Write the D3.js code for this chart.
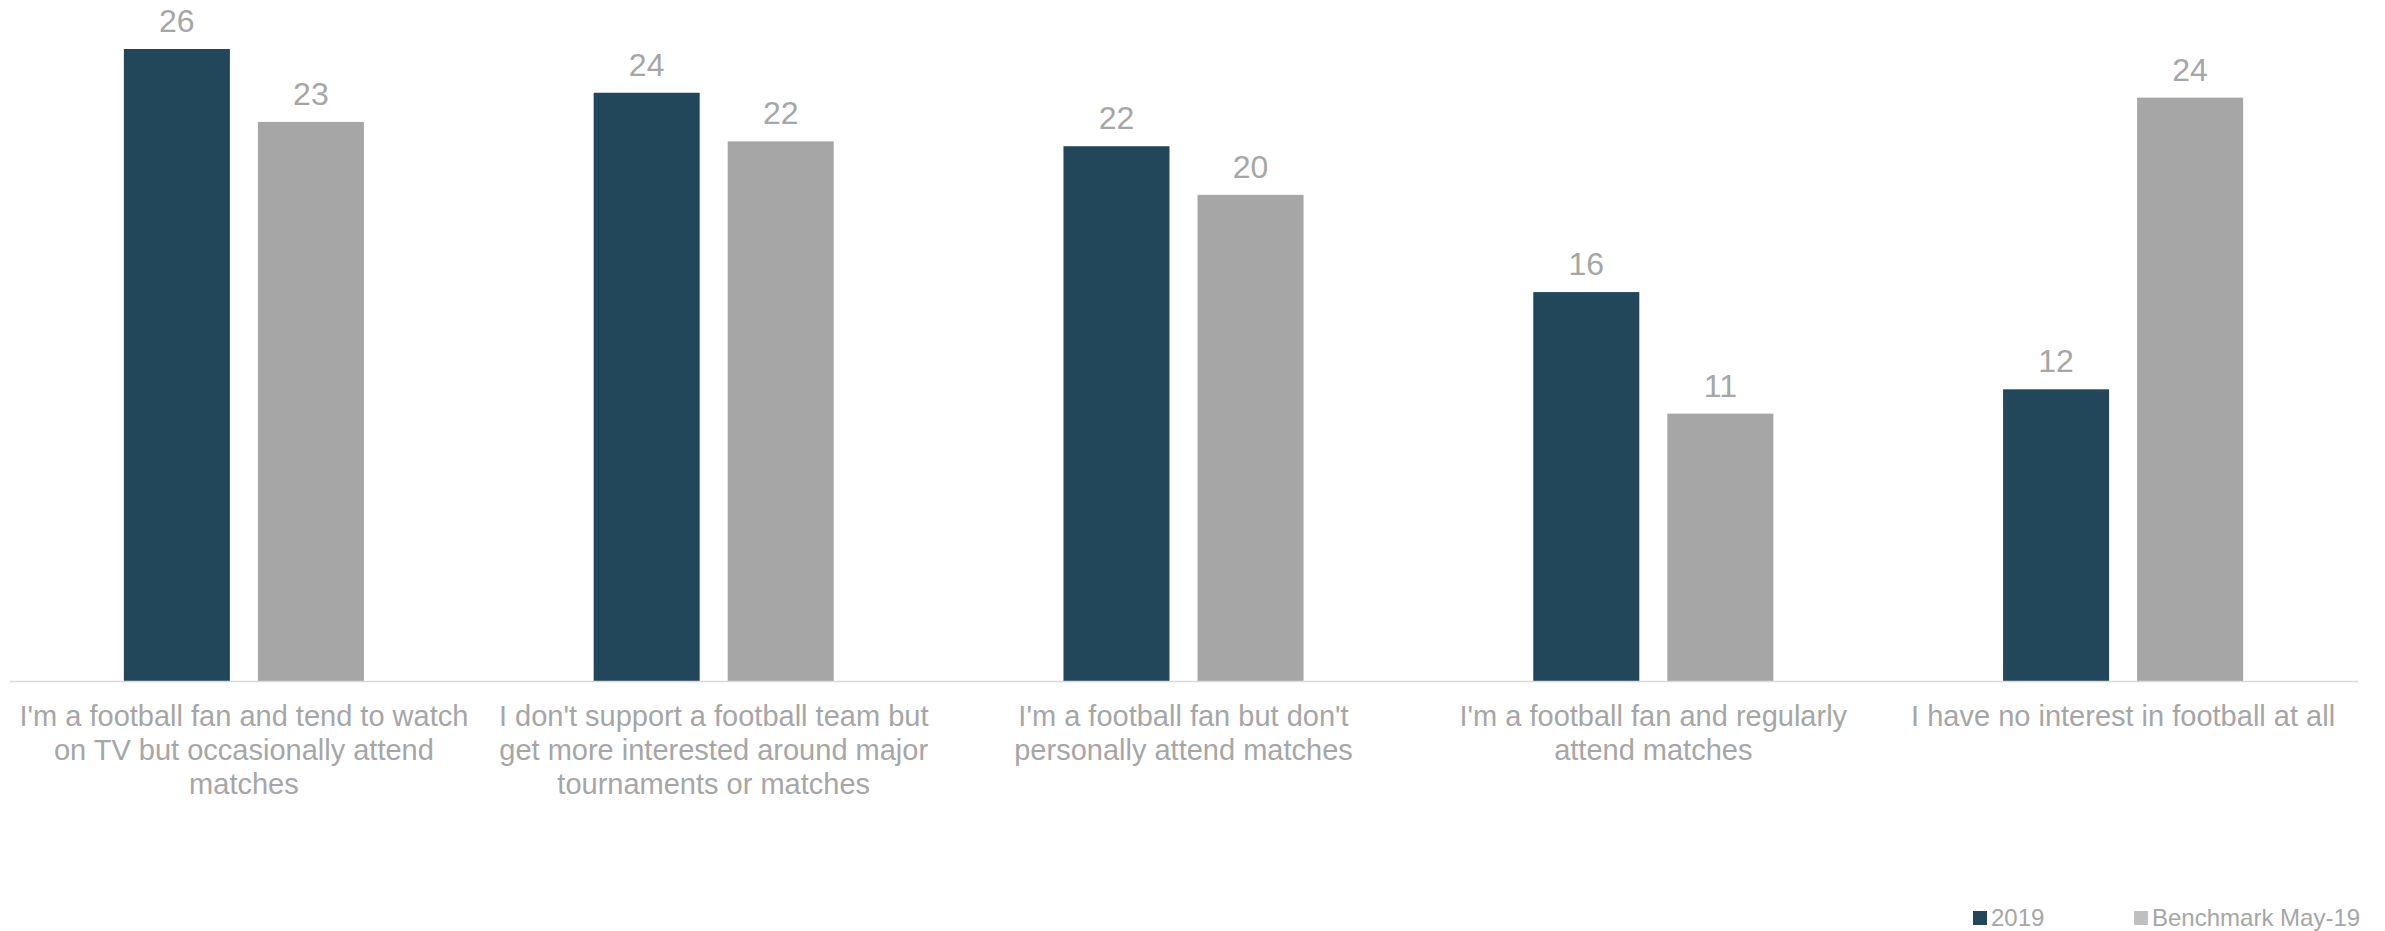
<!DOCTYPE html>
<html>
<head>
<meta charset="utf-8">
<script src="https://cdn.jsdelivr.net/npm/d3@7"></script>
<style>
  html, body { margin: 0; padding: 0; background: #fff; }
  svg { display: block; font-family: "Liberation Sans", Arial, sans-serif; }
</style>
</head>
<body>
<svg id="chart" width="2385" height="931"></svg>
<script>
const categories = [
  "I'm a football fan and tend to watch on TV but occasionally attend matches",
  "I don't support a football team but get more interested around major tournaments or matches",
  "I'm a football fan but don't personally attend matches",
  "I'm a football fan and regularly attend matches",
  "I have no interest in football at all"
];
const seriesNames = ["2019", "Benchmark May-19"];
const values2019 = [26, 24.2, 22, 16, 12];
const valuesBenchmark = [23, 22.2, 20, 11, 24];
const barColors = ["#22475a", "#a6a6a6"];
const legendColors = ["#22475a", "#bfbfbf"];

(function () {
const svg = d3.select("#chart");
const plotLeft = 9, plotRight = 2358, baseY = 681, topY = 49;
const fmt = d3.format(".0f");

const x0 = d3.scaleBand().domain(categories).range([plotLeft, plotRight])
  .paddingInner(0.489).paddingOuter(0.2445);
const x1 = d3.scaleBand().domain(seriesNames).range([0, x0.bandwidth()])
  .paddingInner(0.209).paddingOuter(0);
const y = d3.scaleLinear().domain([0, 26]).range([baseY, topY]);

const seriesValues = [values2019, valuesBenchmark];
const data = categories.map((c, i) => ({
  cat: c,
  vals: seriesNames.map((s, j) => ({ s, j, v: seriesValues[j][i] }))
}));

const g = svg.append("g");
const groups = g.selectAll("g.cat").data(data).join("g")
  .attr("class", "cat")
  .attr("transform", d => `translate(${x0(d.cat)},0)`);

groups.selectAll("rect").data(d => d.vals).join("rect")
  .attr("x", d => x1(d.s))
  .attr("y", d => y(d.v))
  .attr("width", x1.bandwidth())
  .attr("height", d => baseY - y(d.v))
  .attr("fill", d => barColors[d.j]);

groups.selectAll("text.val").data(d => d.vals).join("text")
  .attr("class", "val")
  .attr("x", d => x1(d.s) + x1.bandwidth() / 2)
  .attr("y", d => y(d.v) - 17)
  .attr("text-anchor", "middle")
  .attr("font-size", 32)
  .attr("fill", "#a6a6a6")
  .text(d => fmt(d.v));

// axis baseline
const xAxis = d3.axisBottom(x0).tickSize(0).tickFormat("");
const axG = svg.append("g").attr("transform", `translate(0,${baseY})`).call(xAxis);
axG.select(".domain").attr("stroke", "#d9d9d9").attr("stroke-width", 1.5);

// category labels with wrapping
const wrapWidth = 466;
const lblG = svg.append("g");
categories.forEach(c => {
  const cx = x0(c) + x0.bandwidth() / 2;
  const t = lblG.append("text")
    .attr("text-anchor", "middle")
    .attr("font-size", 29)
    .attr("fill", "#a6a6a6");
  const words = c.split(" ");
  let lines = [], line = [];
  const probe = t.append("tspan");
  words.forEach(w => {
    line.push(w);
    probe.text(line.join(" "));
    if (probe.node().getComputedTextLength() > wrapWidth && line.length > 1) {
      line.pop();
      lines.push(line.join(" "));
      line = [w];
    }
  });
  lines.push(line.join(" "));
  probe.remove();
  lines.forEach((l, k) => {
    t.append("tspan").attr("x", cx).attr("y", 726 + k * 34).text(l);
  });
});

// legend
const legendX = [1973, 2134];
const lg = svg.append("g");
seriesNames.forEach((s, j) => {
  lg.append("rect").attr("x", legendX[j]).attr("y", 911)
    .attr("width", 14).attr("height", 14).attr("fill", legendColors[j]);
  lg.append("text").attr("x", legendX[j] + 18).attr("y", 926)
    .attr("font-size", 24).attr("fill", "#a6a6a6").text(s);
});
})();
</script>
</body>
</html>
